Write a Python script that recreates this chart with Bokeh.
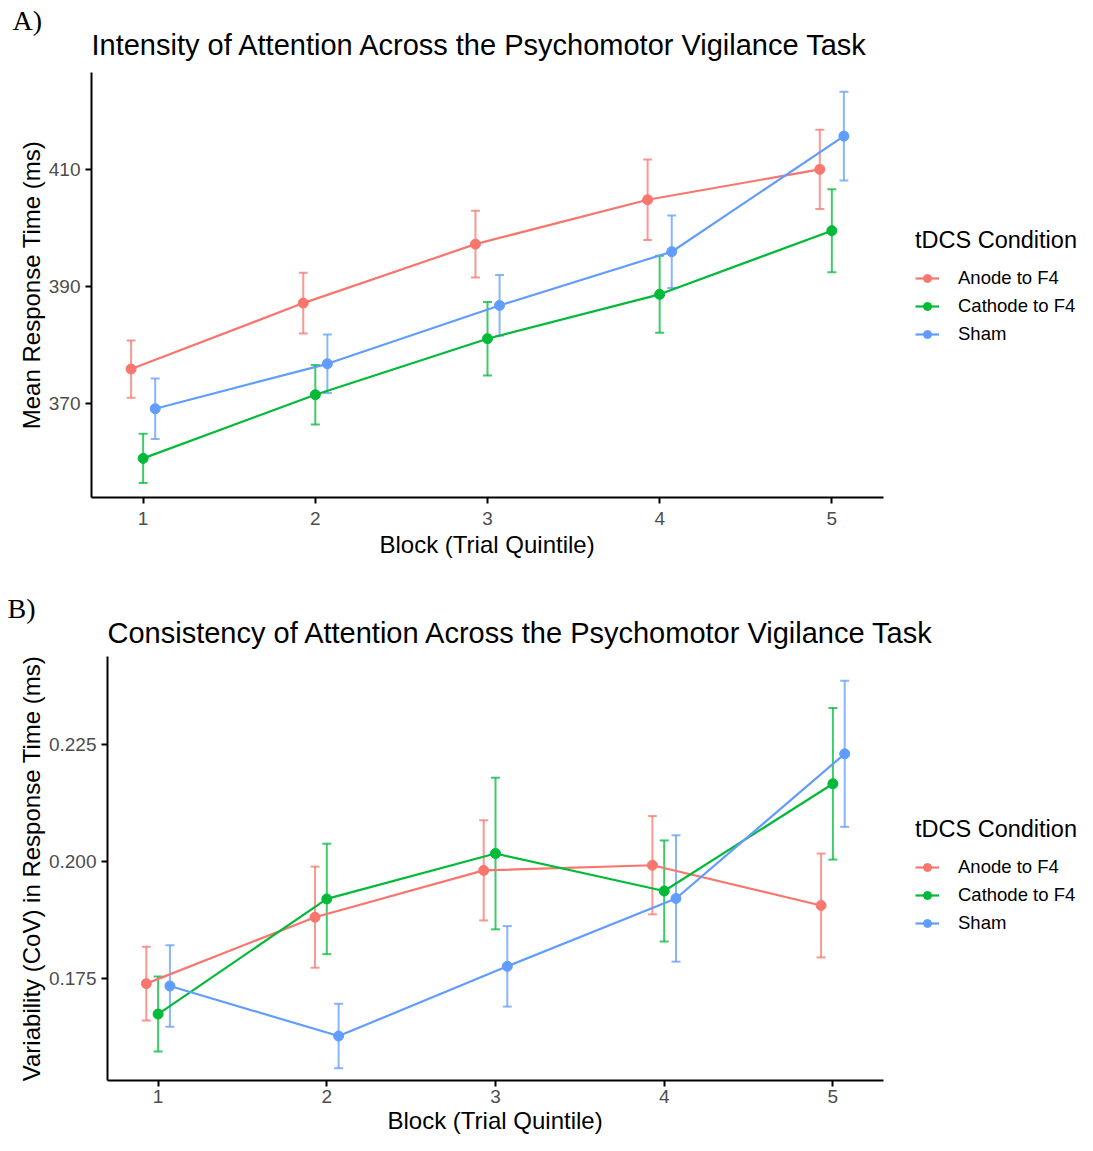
from bokeh.plotting import figure
from bokeh.models import (ColumnDataSource, Whisker, TeeHead, Legend, LegendItem,
                          FixedTicker, PrintfTickFormatter, Title, Range1d)
from bokeh.embed import file_html
from bokeh.resources import INLINE

# ---------------- data ----------------
blocks = [1, 2, 3, 4, 5]
block_ticks = [1, 2, 3, 4, 5]
conditions = ["Anode to F4", "Cathode to F4", "Sham"]

# Panel A: mean response time (ms) and error half-width
rt_anode = [375.9, 387.2, 397.3, 404.9, 410.1]
rt_anode_err = [4.9, 5.2, 5.7, 6.9, 6.8]
rt_cathode = [360.6, 371.5, 381.1, 388.7, 399.6]
rt_cathode_err = [4.2, 5.1, 6.3, 6.6, 7.1]
rt_sham = [369.1, 376.8, 386.8, 396.0, 415.8]
rt_sham_err = [5.2, 5.0, 5.2, 6.2, 7.6]
rt_ticks = [370, 390, 410]

# Panel B: variability (CoV) and error half-width
cov_anode = [0.1739, 0.1881, 0.1981, 0.1992, 0.1906]
cov_anode_err = [0.0079, 0.0108, 0.0107, 0.0105, 0.0111]
cov_cathode = [0.1674, 0.1920, 0.2017, 0.1937, 0.2166]
cov_cathode_err = [0.0080, 0.0118, 0.0162, 0.0108, 0.0162]
cov_sham = [0.1734, 0.1627, 0.1776, 0.1921, 0.2230]
cov_sham_err = [0.0087, 0.0069, 0.0086, 0.0135, 0.0156]
cov_ticks = [0.175, 0.200, 0.225]

colors = ["#F8766D", "#00BA38", "#619CFF"]
dodge = [-0.07, 0.0, 0.07]
FONT = "Liberation Sans"
W = 1077
X_LO, X_HI = 0.70, 5.30      # visible axis extent
AXIS_RIGHT = 883             # pixel where the x axis line ends


def make_panel(title, ylabel, xlabel, series, yr, yticks, fmt, letter, *,
               height, left, top, frame_h, title_standoff, letter_standoff,
               letter_offset, legend_loc, label_standoff, xlabel_offset,
               xlabel_standoff):
    # frame runs to the right edge of the canvas so the legend (drawn inside the
    # frame) is not clipped; the axis itself is bounded to the data extent
    px_per_unit = (AXIS_RIGHT - left) / (X_HI - X_LO)
    x_end = X_LO + (W - left) / px_per_unit
    p = figure(width=W, height=height,
               x_range=Range1d(X_LO, x_end), y_range=Range1d(*yr),
               output_backend="svg", toolbar_location=None,
               min_border_left=left, min_border_right=0,
               min_border_top=top, min_border_bottom=height - top - frame_h)
    p.outline_line_color = None
    p.xgrid.visible = False
    p.ygrid.visible = False

    items = []
    for (name, mean, err), col, off in zip(series, colors, dodge):
        xs = [b + off for b in blocks]
        src = ColumnDataSource(dict(x=xs, y=mean,
                                    lo=[m - e for m, e in zip(mean, err)],
                                    hi=[m + e for m, e in zip(mean, err)]))
        w = Whisker(base="x", lower="lo", upper="hi", source=src,
                    line_color=col, line_width=2, line_alpha=0.75,
                    upper_head=TeeHead(size=9, line_color=col, line_width=2, line_alpha=0.75),
                    lower_head=TeeHead(size=9, line_color=col, line_width=2, line_alpha=0.75))
        p.add_layout(w)
        lr = p.line("x", "y", source=src, line_color=col, line_width=2.2)
        sr = p.scatter("x", "y", source=src, size=10, fill_color=col, line_color=col)
        items.append(LegendItem(label=name, renderers=[lr, sr]))

    legend = Legend(items=items, location=legend_loc, title="tDCS Condition",
                    title_text_font=FONT, title_text_font_size="23.5px",
                    title_text_font_style="normal", title_text_color="black",
                    title_standoff=13,
                    label_text_font=FONT, label_text_font_size="18.5px",
                    label_text_color="black",
                    glyph_width=24, glyph_height=20, label_height=20,
                    label_standoff=19, spacing=6, padding=0, margin=0,
                    border_line_color=None, background_fill_alpha=0)
    p.add_layout(legend, "center")

    p.title.text = ""
    main_title = Title(text=title, text_font=FONT, text_font_size="29px",
                       text_font_style="normal", text_color="black",
                       align="left", offset=0, standoff=title_standoff)
    p.add_layout(main_title, "above")
    letter_title = Title(text=letter, text_font="Liberation Serif", text_font_size="28px",
                         text_font_style="normal", text_color="black",
                         align="left", offset=letter_offset, standoff=letter_standoff)
    p.add_layout(letter_title, "above")

    for ax in (p.xaxis[0], p.yaxis[0]):
        ax.axis_line_color = "black"
        ax.axis_line_width = 2
        ax.major_tick_line_color = "black"
        ax.major_tick_line_width = 2
        ax.major_tick_out = 6
        ax.major_tick_in = 0
        ax.minor_tick_line_color = None
        ax.major_label_text_font = FONT
        ax.major_label_text_font_size = "19px"
        ax.major_label_text_color = "#4D4D4D"
        ax.axis_label_text_font = FONT
        ax.axis_label_text_font_size = "24px"
        ax.axis_label_text_font_style = "normal"
        ax.axis_label_text_color = "black"

    p.xaxis[0].bounds = (X_LO, X_HI)
    p.xaxis[0].major_label_standoff = label_standoff
    p.xaxis[0].axis_label = None
    p.yaxis[0].major_label_standoff = 5
    p.yaxis[0].axis_label_standoff = 1

    p.xaxis[0].ticker = FixedTicker(ticks=block_ticks)
    p.yaxis[0].ticker = FixedTicker(ticks=yticks)
    if fmt:
        p.yaxis[0].formatter = PrintfTickFormatter(format=fmt)
    p.yaxis[0].axis_label = ylabel

    # x-axis title, centred under the bounded axis (not under the wider frame)
    x_title = Title(text=xlabel, text_font=FONT, text_font_size="24px",
                    text_font_style="normal", text_color="black",
                    align="left", offset=xlabel_offset, standoff=xlabel_standoff)
    p.add_layout(x_title, "below")
    return p


XLABEL = "Block (Trial Quintile)"

p1 = make_panel("Intensity of Attention Across the Psychomotor Vigilance Task",
                "Mean Response Time (ms)", XLABEL,
                [(conditions[0], rt_anode, rt_anode_err),
                 (conditions[1], rt_cathode, rt_cathode_err),
                 (conditions[2], rt_sham, rt_sham_err)],
                (353.9, 426.7), rt_ticks, None, "A)",
                height=565, left=91, top=72, frame_h=425,
                title_standoff=23, letter_standoff=-41, letter_offset=-79,
                legend_loc=(824, 152), label_standoff=8,
                xlabel_offset=288, xlabel_standoff=2)

p2 = make_panel("Consistency of Attention Across the Psychomotor Vigilance Task",
                "Variability (CoV) in Response Time (ms)", XLABEL,
                [(conditions[0], cov_anode, cov_anode_err),
                 (conditions[1], cov_cathode, cov_cathode_err),
                 (conditions[2], cov_sham, cov_sham_err)],
                (0.153205, 0.24380), cov_ticks, "%.3f", "B)",
                height=570, left=107, top=91, frame_h=424,
                title_standoff=16, letter_standoff=-34, letter_offset=-100,
                legend_loc=(808, 146), label_standoff=3,
                xlabel_offset=280, xlabel_standoff=-2)

open("out.html", "w").write(file_html([p1, p2], INLINE))
